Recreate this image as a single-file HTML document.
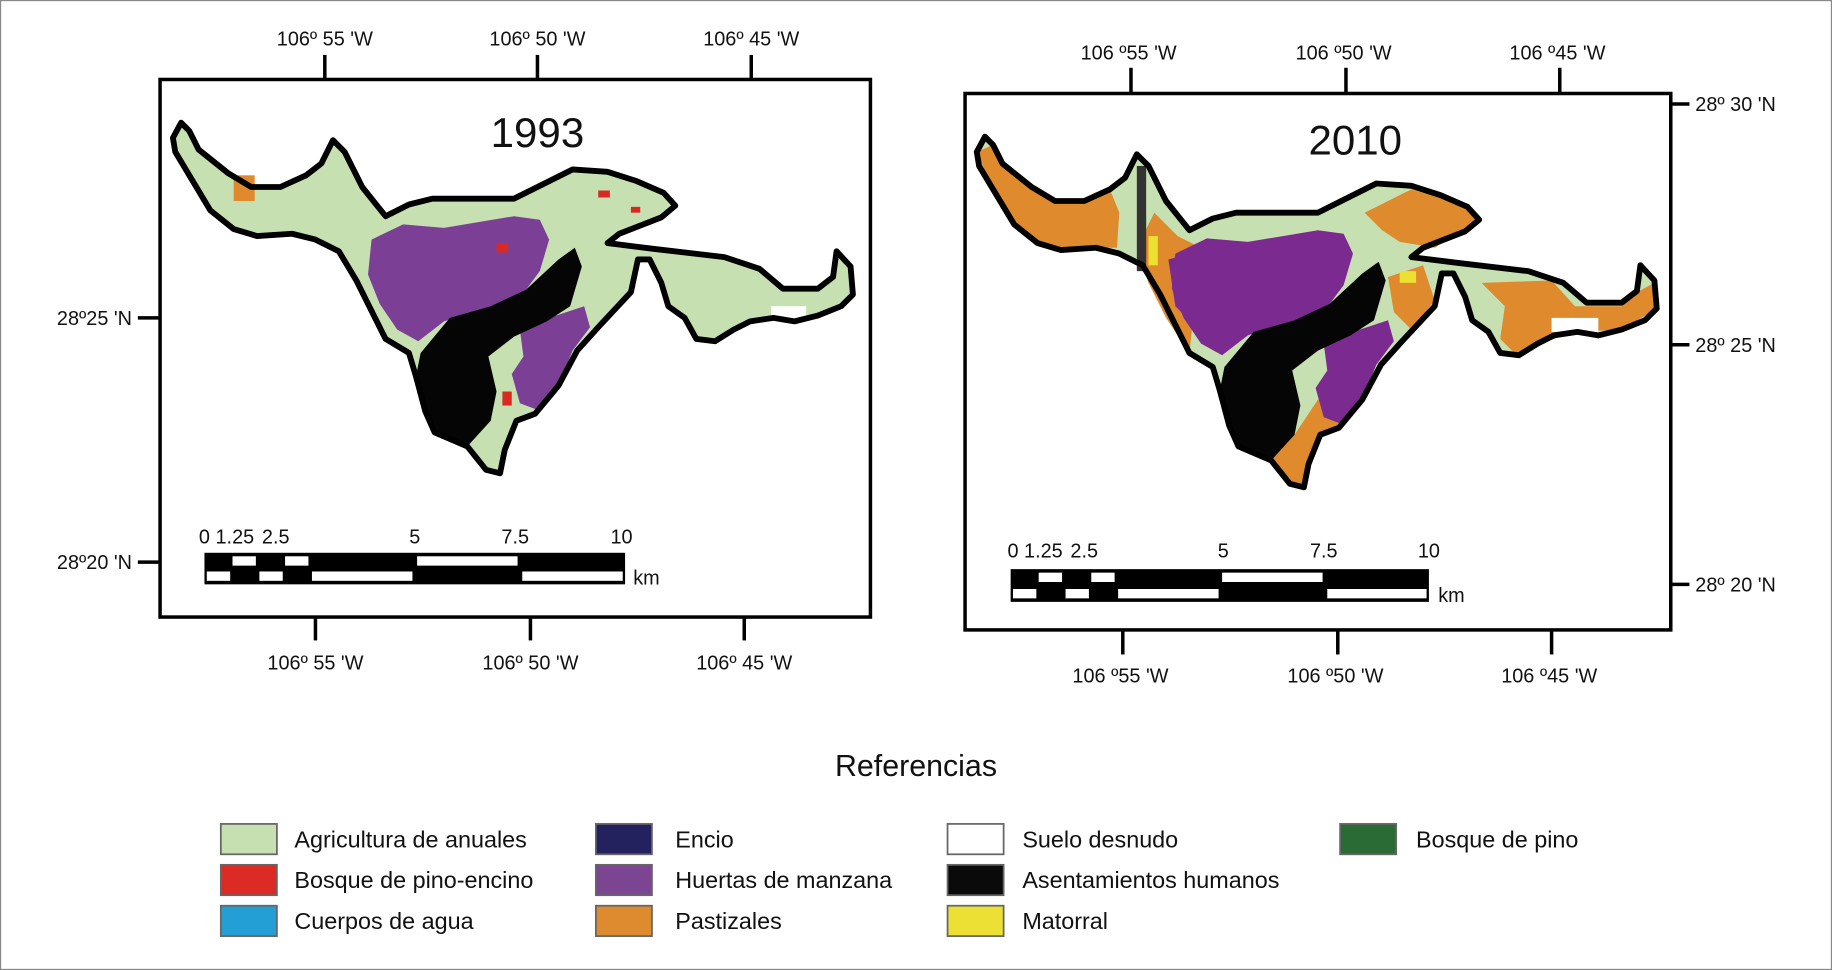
<!DOCTYPE html>
<html><head><meta charset="utf-8"><style>
html,body{margin:0;padding:0;background:#fff}
svg{display:block}
text{font-family:"Liberation Sans",sans-serif;fill:#111}
</style></head><body>
<svg width="1832" height="970" viewBox="0 0 1568 830" preserveAspectRatio="none" xmlns="http://www.w3.org/2000/svg">
<defs>
<path id="outline" d="M148,118 L155,105 L162,112 L170,128 L195,148 L215,160 L240,160 L262,150 L275,140 L285,120 L295,130 L310,160 L330,185 L350,175 L370,170 L410,170 L440,170 L460,160 L490,145 L520,147 L545,155 L568,165 L578,176 L566,186 L530,200 L520,208 L560,213 L620,220 L650,230 L670,247 L700,247 L713,237 L716,215 L728,228 L730,252 L720,262 L700,270 L680,275 L662,272 L642,275 L628,282 L612,292 L596,290 L586,272 L572,262 L566,242 L556,222 L546,222 L540,250 L512,280 L494,300 L478,330 L458,354 L442,360 L432,385 L428,405 L416,402 L400,382 L372,370 L364,352 L356,322 L350,302 L330,290 L320,270 L305,240 L290,215 L270,205 L250,200 L220,202 L200,196 L180,180 L162,150 L150,130 Z"/>
<path id="purple1" d="M318,205 L345,192 L380,195 L410,190 L440,185 L462,188 L470,205 L462,232 L445,255 L410,265 L380,275 L358,292 L340,282 L325,260 L315,235 Z"/>
<path id="purple2" d="M445,282 L470,272 L500,262 L505,280 L490,300 L478,330 L458,350 L445,345 L438,320 L448,305 Z"/>
<path id="black1" d="M360,302 L385,272 L420,262 L450,248 L478,222 L492,212 L498,228 L488,262 L468,275 L440,288 L418,305 L425,335 L420,360 L400,382 L372,370 L364,352 L356,322 Z"/>
</defs>
<rect x="0.5" y="0.5" width="1567" height="829" fill="#fff" stroke="#888" stroke-width="1"/>

<g>
<rect x="137" y="68" width="608" height="460" fill="#fff" stroke="#000" stroke-width="3"/>
<use href="#outline" fill="#c7e0b1"/>
<use href="#purple1" fill="#7b3f95"/>
<use href="#purple2" fill="#7b3f95"/>
<use href="#black1" fill="#050505"/>
<rect x="200" y="150" width="18" height="22" fill="#e08a2e"/>
<rect x="660" y="262" width="30" height="12" fill="#fff"/>
<rect x="512" y="163" width="10" height="6" fill="#d82a22"/>
<rect x="540" y="177" width="8" height="5" fill="#d82a22"/>
<rect x="425" y="208" width="10" height="8" fill="#d82a22"/>
<rect x="430" y="335" width="8" height="12" fill="#d82a22"/>
<use href="#outline" fill="none" stroke="#000" stroke-width="5" stroke-linejoin="round"/>
<text x="460" y="126" font-size="36" text-anchor="middle">1993</text>
<g stroke="#000" stroke-width="3">
<line x1="278" y1="47" x2="278" y2="68"/><line x1="460" y1="47" x2="460" y2="68"/><line x1="643" y1="47" x2="643" y2="68"/>
<line x1="270" y1="528" x2="270" y2="548"/><line x1="454" y1="528" x2="454" y2="548"/><line x1="637" y1="528" x2="637" y2="548"/>
<line x1="118" y1="272" x2="137" y2="272"/><line x1="118" y1="481" x2="137" y2="481"/>
</g>
<g font-size="17" text-anchor="middle">
<text x="278" y="39">106º 55 'W</text><text x="460" y="39">106º 50 'W</text><text x="643" y="39">106º 45 'W</text>
<text x="270" y="573">106º 55 'W</text><text x="454" y="573">106º 50 'W</text><text x="637" y="573">106º 45 'W</text>
</g>
<g font-size="17" text-anchor="end">
<text x="113" y="278">28º25 'N</text><text x="113" y="487">28º20 'N</text>
</g>
<g>
<rect x="175" y="473" width="360" height="27" fill="#000"/>
<rect x="199" y="476" width="20" height="8" fill="#fff"/><rect x="244" y="476" width="20" height="8" fill="#fff"/><rect x="357" y="476" width="86" height="8" fill="#fff"/>
<rect x="177" y="489" width="20" height="8" fill="#fff"/><rect x="222" y="489" width="20" height="8" fill="#fff"/><rect x="267" y="489" width="86" height="8" fill="#fff"/><rect x="447" y="489" width="86" height="8" fill="#fff"/>
<g font-size="17" text-anchor="middle"><text x="175" y="465">0</text><text x="201" y="465">1.25</text><text x="236" y="465">2.5</text><text x="355" y="465">5</text><text x="441" y="465">7.5</text><text x="532" y="465">10</text></g>
<text x="542" y="500" font-size="17">km</text>
</g>
</g>

<g>
<rect x="826" y="80" width="604" height="459" fill="#fff" stroke="#000" stroke-width="3"/>
<g transform="translate(688,12)">
<use href="#outline" fill="#c7e0b1"/>
<path d="M148,118 L162,112 L170,128 L195,148 L215,160 L240,160 L262,150 L270,170 L268,200 L250,200 L220,202 L200,196 L180,180 L162,150 Z" fill="#e08a2e"/>
<path d="M300,170 L320,190 L340,200 L330,290 L310,260 L295,230 L285,200 Z" fill="#e08a2e"/>
<path d="M480,170 L520,150 L560,162 L578,176 L540,200 L510,195 L495,185 Z" fill="#e08a2e"/>
<path d="M580,230 L640,228 L660,250 L700,250 L715,237 L728,230 L730,252 L700,270 L660,272 L630,282 L610,292 L596,278 L600,250 Z" fill="#e08a2e"/>
<path d="M440,330 L470,320 L478,330 L458,354 L442,362 L432,390 L428,405 L416,402 L400,382 L420,360 Z" fill="#e08a2e"/>
<path d="M500,225 L530,215 L540,245 L520,270 L505,255 Z" fill="#e08a2e"/>
<use href="#purple1" fill="#7b2a8f"/>
<path d="M312,210 L330,205 L340,230 L330,262 L318,250 Z" fill="#7b2a8f"/>
<use href="#purple2" fill="#7b2a8f"/>
<use href="#black1" fill="#050505"/>
<rect x="285" y="130" width="8" height="90" fill="#333"/>
<rect x="295" y="190" width="8" height="25" fill="#ece031"/>
<rect x="510" y="220" width="14" height="10" fill="#ece031"/>
<rect x="640" y="260" width="40" height="12" fill="#fff"/>
<use href="#outline" fill="none" stroke="#000" stroke-width="5" stroke-linejoin="round"/>
</g>
<text x="1160" y="132" font-size="36" text-anchor="middle">2010</text>
<g stroke="#000" stroke-width="3">
<line x1="968" y1="58" x2="968" y2="80"/><line x1="1152" y1="58" x2="1152" y2="80"/><line x1="1335" y1="58" x2="1335" y2="80"/>
<line x1="961" y1="539" x2="961" y2="560"/><line x1="1145" y1="539" x2="1145" y2="560"/><line x1="1328" y1="539" x2="1328" y2="560"/>
<line x1="1430" y1="89" x2="1446" y2="89"/><line x1="1430" y1="295" x2="1446" y2="295"/><line x1="1430" y1="500" x2="1446" y2="500"/>
</g>
<g font-size="17" text-anchor="middle">
<text x="966" y="51">106 º55 'W</text><text x="1150" y="51">106 º50 'W</text><text x="1333" y="51">106 º45 'W</text>
<text x="959" y="584">106 º55 'W</text><text x="1143" y="584">106 º50 'W</text><text x="1326" y="584">106 º45 'W</text>
</g>
<g font-size="17">
<text x="1451" y="95">28º 30 'N</text><text x="1451" y="301">28º 25 'N</text><text x="1451" y="506">28º 20 'N</text>
</g>
<g>
<rect x="865" y="487" width="358" height="28" fill="#000"/>
<rect x="889" y="490" width="20" height="8" fill="#fff"/><rect x="934" y="490" width="20" height="8" fill="#fff"/><rect x="1046" y="490" width="86" height="8" fill="#fff"/>
<rect x="867" y="504" width="20" height="8" fill="#fff"/><rect x="912" y="504" width="20" height="8" fill="#fff"/><rect x="957" y="504" width="86" height="8" fill="#fff"/><rect x="1136" y="504" width="85" height="8" fill="#fff"/>
<g font-size="17" text-anchor="middle"><text x="867" y="477">0</text><text x="893" y="477">1.25</text><text x="928" y="477">2.5</text><text x="1047" y="477">5</text><text x="1133" y="477">7.5</text><text x="1223" y="477">10</text></g>
<text x="1231" y="515" font-size="17">km</text>
</g>
</g>

<g font-size="20">
<text x="784" y="664" font-size="26" text-anchor="middle">Referencias</text>
<g stroke="#666" stroke-width="1.5">
<rect x="189" y="705" width="48" height="26" fill="#c7e0b1"/>
<rect x="189" y="740" width="48" height="26" fill="#dc2b25"/>
<rect x="189" y="775" width="48" height="26" fill="#239fd6"/>
<rect x="510" y="705" width="48" height="26" fill="#23225e"/>
<rect x="510" y="740" width="48" height="26" fill="#7b4592"/>
<rect x="510" y="775" width="48" height="26" fill="#de8b2f"/>
<rect x="811" y="705" width="48" height="26" fill="#fff"/>
<rect x="811" y="740" width="48" height="26" fill="#0a0a0a"/>
<rect x="811" y="775" width="48" height="26" fill="#ebe033"/>
<rect x="1147" y="705" width="48" height="26" fill="#2a6a34"/>
</g>
<text x="252" y="725">Agricultura de anuales</text>
<text x="252" y="760">Bosque de pino-encino</text>
<text x="252" y="795">Cuerpos de agua</text>
<text x="578" y="725">Encio</text>
<text x="578" y="760">Huertas de manzana</text>
<text x="578" y="795">Pastizales</text>
<text x="875" y="725">Suelo desnudo</text>
<text x="875" y="760">Asentamientos humanos</text>
<text x="875" y="795">Matorral</text>
<text x="1212" y="725">Bosque de pino</text>
</g>
</svg>
</body></html>
